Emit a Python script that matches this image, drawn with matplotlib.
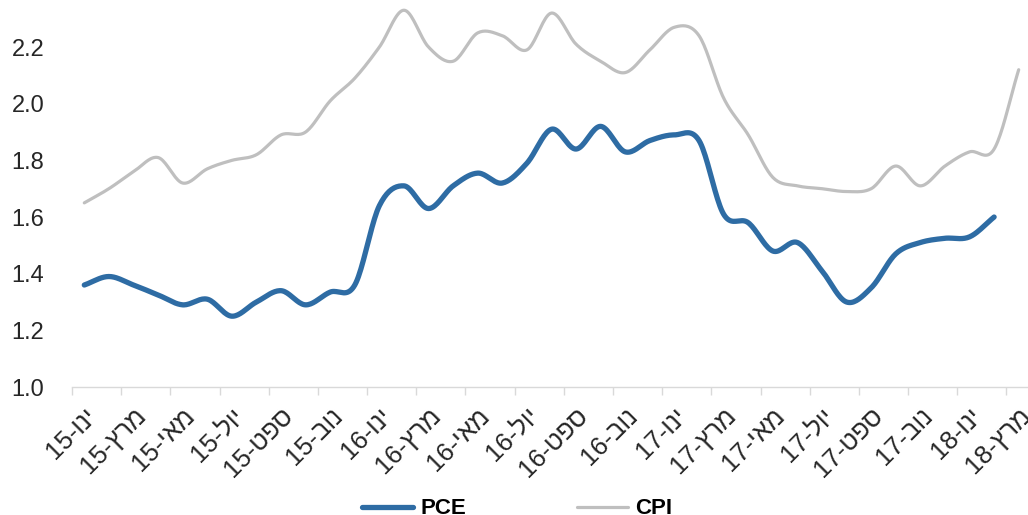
import numpy as np
import matplotlib
matplotlib.use('Agg')
import matplotlib.pyplot as plt

# Etiquetas del eje (mes-ano, cada dos meses)
etiquetas = ["ינו-15", "מרץ-15", "מאי-15", "יול-15", "ספט-15", "נוב-15",
             "ינו-16", "מרץ-16", "מאי-16", "יול-16", "ספט-16", "נוב-16",
             "ינו-17", "מרץ-17", "מאי-17", "יול-17", "ספט-17", "נוב-17",
             "ינו-18", "מרץ-18"]

# Series mensuales desde enero 2015
cpi = [1.65, 1.70, 1.76, 1.81, 1.72, 1.77, 1.80, 1.82, 1.89, 1.90,
       2.01, 2.09, 2.20, 2.33, 2.20, 2.15, 2.25, 2.24, 2.19, 2.32,
       2.21, 2.15, 2.11, 2.19, 2.27, 2.24, 2.02, 1.89, 1.74, 1.71,
       1.70, 1.69, 1.70, 1.78, 1.71, 1.78, 1.83, 1.84, 2.12]
pce = [1.36, 1.39, 1.36, 1.325, 1.29, 1.31, 1.25, 1.30, 1.34, 1.29,
       1.335, 1.36, 1.64, 1.71, 1.63, 1.71, 1.755, 1.72, 1.79, 1.91,
       1.84, 1.92, 1.83, 1.87, 1.89, 1.87, 1.61, 1.58, 1.48, 1.51,
       1.41, 1.30, 1.35, 1.47, 1.51, 1.525, 1.53, 1.60]


def suavizar(valores, n=20):
    # curva Catmull-Rom entre puntos consecutivos
    y = np.asarray(valores, dtype=float)
    x = np.arange(len(y), dtype=float)
    xp = np.concatenate([[2 * x[0] - x[1]], x, [2 * x[-1] - x[-2]]])
    yp = np.concatenate([[2 * y[0] - y[1]], y, [2 * y[-1] - y[-2]]])
    xs, ys = [], []
    t = np.linspace(0, 1, n, endpoint=False)
    for i in range(1, len(xp) - 2):
        for arr, out in ((xp, xs), (yp, ys)):
            p0, p1, p2, p3 = arr[i - 1], arr[i], arr[i + 1], arr[i + 2]
            out.extend(0.5 * ((2 * p1) + (-p0 + p2) * t
                              + (2 * p0 - 5 * p1 + 4 * p2 - p3) * t ** 2
                              + (-p0 + 3 * p1 - 3 * p2 + p3) * t ** 3))
    xs.append(x[-1])
    ys.append(y[-1])
    return np.array(xs), np.array(ys)


plt.rcParams['font.family'] = ['Liberation Sans', 'DejaVu Sans']

fig = plt.figure(figsize=(10.28, 5.15), dpi=100)
ax = fig.add_axes([72 / 1028, 128 / 515, 959 / 1028, 396.6 / 515])

azul = "#2E6CA4"
gris = "#BFBFBF"

xc, yc = suavizar(cpi)
xp, yp = suavizar(pce)
ax.plot(xc, yc, color=gris, lw=2.3, solid_capstyle='round', label="CPI")
ax.plot(xp, yp, color=azul, lw=3.8, solid_capstyle='round', label="PCE")

ax.set_xlim(-0.5, 38.5)
ax.set_ylim(1.0, 2.4)
ax.set_yticks([1.0, 1.2, 1.4, 1.6, 1.8, 2.0, 2.2])
ax.set_yticklabels(["%.1f" % v for v in [1.0, 1.2, 1.4, 1.6, 1.8, 2.0, 2.2]])
ax.tick_params(axis='y', length=0, pad=20, labelsize=17, labelcolor="#262626")

# marcas entre categorias, etiquetas en el centro de la categoria
ax.set_xticks(np.arange(-0.5, 38, 2))
ax.set_xticklabels([])
ax.tick_params(axis='x', which='major', length=6, color="#D9D9D9", width=1)
ax.set_xticks(np.arange(0, 39, 2), minor=True)
visuales = [e.split("-")[1] + "-" + e.split("-")[0][::-1] for e in etiquetas]
ax.set_xticklabels(visuales, minor=True, rotation=45, ha='right', va='top',
                   rotation_mode='anchor')
ax.tick_params(axis='x', which='minor', length=0, pad=12, labelsize=18.5,
               labelcolor="#262626")

for lado in ['top', 'right', 'left']:
    ax.spines[lado].set_visible(False)
ax.spines['bottom'].set_color("#D9D9D9")
ax.spines['bottom'].set_linewidth(1)

h, l = ax.get_legend_handles_labels()
fig.legend([h[1], h[0]], [l[1], l[0]], loc='center', ncol=2,
           bbox_to_anchor=(0.503, 0.012), frameon=False, handlelength=2.3,
           columnspacing=5, handletextpad=0.3,
           prop={'size': 16, 'weight': 'bold'})

fig.savefig("out.png", dpi=100)
